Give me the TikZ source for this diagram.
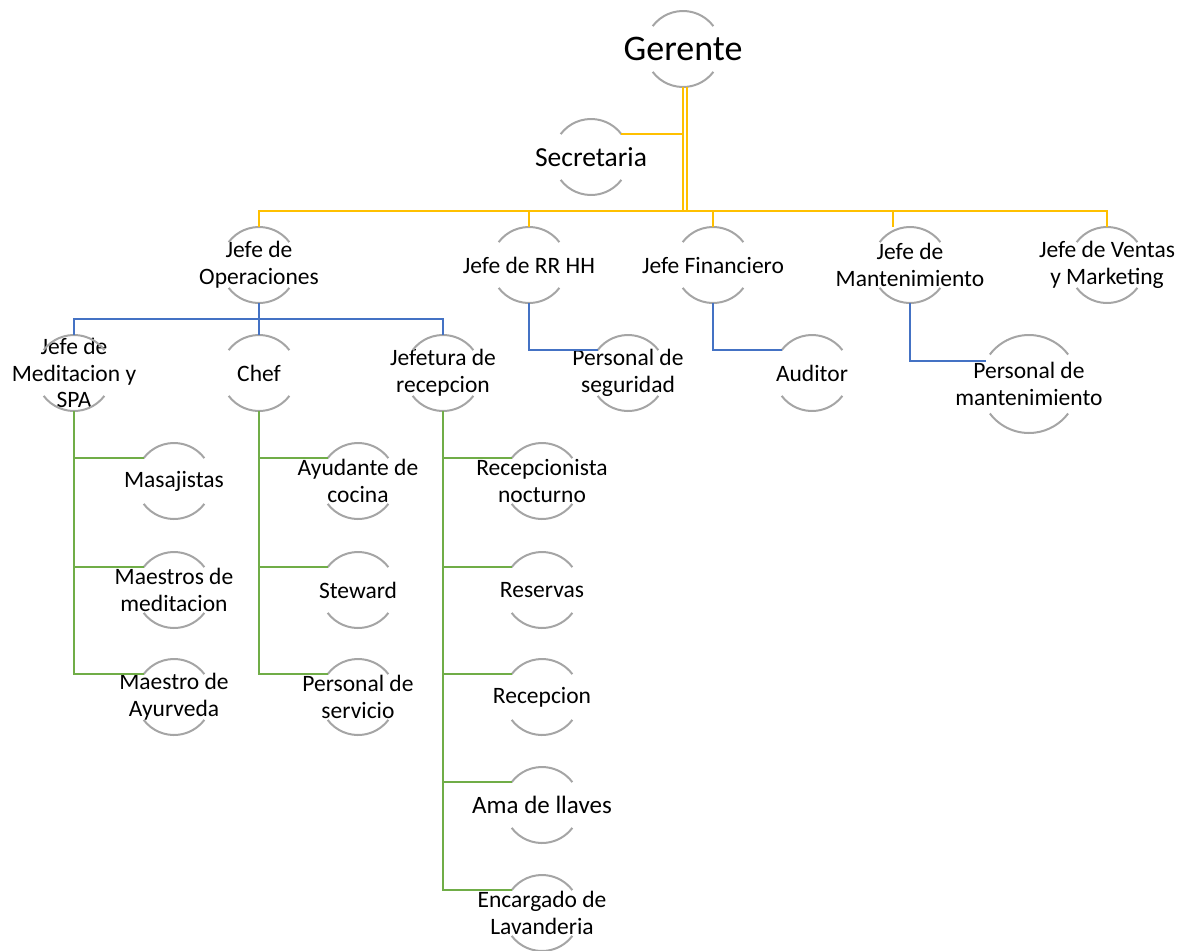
\documentclass[tikz,border=0pt]{standalone}
\usepackage{fontspec}
\setmainfont{Carlito}

\definecolor{ringgray}{HTML}{A5A5A5}
\definecolor{goldline}{HTML}{FFC000}
\definecolor{blueline}{HTML}{4472C4}
\definecolor{greenline}{HTML}{70AD47}

\newcommand{\rolefont}{\fontsize{23.5}{26.7}\selectfont}

\begin{document}
\begin{tikzpicture}[x=1pt, y=1pt,
    role/.style={circle, minimum size=76pt, inner sep=0pt, outer sep=0pt},
    bigrole/.style={role, minimum size=98pt},
    every label/.style={align=center, inner sep=0pt, font=\rolefont},
    level0/.style={draw=goldline, line width=2.3pt},
    level1/.style={draw=blueline, line width=2.7pt},
    level2/.style={draw=greenline, line width=2.7pt},
    rim/.style={draw=ringgray, line width=2pt}]
    \useasboundingbox (0,0) rectangle (1187,-951);

    % direccion
    \node[role, label={[font=\fontsize{36}{40}\selectfont]center:Gerente}] (gerente) at (683,-49) {};
    \node[role, label={[font=\fontsize{27.5}{31}\selectfont]center:Secretaria}] (secretaria) at (591,-157) {};

    % jefaturas
    \node[role, label={center:Jefe de\\Operaciones}] (operaciones) at (259,-265) {};
    \node[role, label={center:Jefe de RR HH}] (rrhh) at (529,-265) {};
    \node[role, label={center:Jefe Financiero}] (financiero) at (713,-265) {};
    \node[role, label={center:Jefe de\\Mantenimiento}] (mantenimiento) at (910,-265) {};
    \node[role, label={center:Jefe de Ventas\\y Marketing}] (ventas) at (1107,-265) {};

    % tercer nivel
    \node[role, label={center:Jefe de\\Meditacion y\\SPA}] (meditacion) at (74,-373) {};
    \node[role, label={center:Chef}] (chef) at (259,-373) {};
    \node[role, label={center:Jefetura de\\recepcion}] (jefrecepcion) at (443,-373) {};
    \node[role, label={center:Personal de\\seguridad}] (seguridad) at (628,-373) {};
    \node[role, label={center:Auditor}] (auditor) at (812,-373) {};
    \node[bigrole, label={center:Personal de\\mantenimiento}] (persmant) at (1029,-384) {};

    % personal
    \node[role, label={center:Masajistas}] (masajistas) at (174,-481) {};
    \node[role, label={center:Maestros de\\meditacion}] (maestros) at (174,-590) {};
    \node[role, label={center:Maestro de\\Ayurveda}] (ayurveda) at (174,-697) {};
    \node[role, label={center:Ayudante de\\cocina}] (ayudante) at (358,-481) {};
    \node[role, label={center:Steward}] (steward) at (358,-590) {};
    \node[role, label={center:Personal de\\servicio}] (servicio) at (358,-697) {};
    \node[role, label={center:Recepcionista\\nocturno}] (nocturno) at (542,-481) {};
    \node[role, label={center:Reservas}] (reservas) at (542,-590) {};
    \node[role, label={center:Recepcion}] (recepcion) at (542,-697) {};
    \node[role, label={[font=\fontsize{25}{28}\selectfont]center:Ama de llaves}] (llaves) at (542,-805) {};
    \node[role, label={center:Encargado de\\Lavanderia}] (lavanderia) at (542,-913) {};

    % arcos de cada puesto
    \foreach \n/\rad in {gerente/38, secretaria/38, operaciones/38, rrhh/38, financiero/38,
        mantenimiento/38, ventas/38, meditacion/38, chef/38, jefrecepcion/38, seguridad/38,
        auditor/38, persmant/49, masajistas/38, maestros/38, ayurveda/38, ayudante/38,
        steward/38, servicio/38, nocturno/38, reservas/38, recepcion/38, llaves/38, lavanderia/38}
        \draw[rim] (\n.143) arc[start angle=143, end angle=37, radius=\rad pt]
                   (\n.217) arc[start angle=217, end angle=323, radius=\rad pt];

    \coordinate (topbus) at (0,-211);
    \coordinate (opsbus) at (0,-319);

    % lineas amarillas
    \foreach \c in {operaciones, rrhh, financiero, ventas}
        \draw[level0] (gerente.south) -- (gerente.south |- topbus) -| (\c.north);
    \draw[level0] (gerente.south) -- (gerente.south |- topbus) -| ([xshift=-17pt]mantenimiento.north);
    \draw[level0] ([xshift=4pt]gerente.south) -- ([xshift=4pt]gerente.south |- topbus);
    \draw[level0] (gerente.south) |- (secretaria.37);

    % lineas azules
    \foreach \c in {meditacion, chef, jefrecepcion}
        \draw[level1] (operaciones.south) -- (operaciones.south |- opsbus) -| (\c.north);
    \draw[level1] (rrhh.south) |- (seguridad.143);
    \draw[level1] (financiero.south) |- (auditor.143);
    \draw[level1] (mantenimiento.south) |- (persmant.152);

    % lineas verdes
    \foreach \c in {masajistas, maestros, ayurveda}
        \draw[level2] (meditacion.south) |- (\c.143);
    \foreach \c in {ayudante, steward, servicio}
        \draw[level2] (chef.south) |- (\c.143);
    \foreach \c in {nocturno, reservas, recepcion, llaves, lavanderia}
        \draw[level2] (jefrecepcion.south) |- (\c.143);
\end{tikzpicture}
\end{document}
